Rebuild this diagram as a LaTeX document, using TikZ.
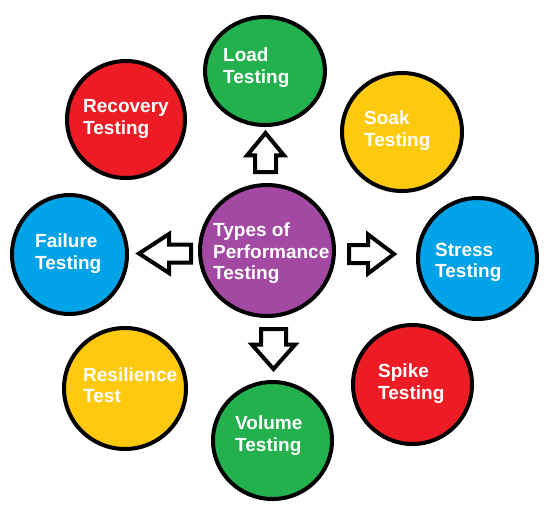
\documentclass[tikz,border=0pt]{standalone}
\usepackage{fontspec}
\setmainfont{Liberation Sans}
\usetikzlibrary{shapes.geometric,shapes.arrows,positioning}
\definecolor{paintgreen}{RGB}{34,177,76}
\definecolor{paintred}{RGB}{237,28,36}
\definecolor{paintyellow}{RGB}{255,201,14}
\definecolor{paintblue}{RGB}{0,162,232}
\definecolor{paintpurple}{RGB}{163,73,164}

\begin{document}
\begin{tikzpicture}[x=1pt,y=-1pt,
  disc/.style={ellipse,draw,line width=4pt,inner sep=0pt},
  lbl/.style={anchor=west,align=left,inner sep=0pt,text=white,font=\fontsize{19}{21.5}\selectfont\bfseries},
  bigarrow/.style={single arrow,draw,line width=4pt,fill=white,inner xsep=0pt,anchor=tail}]
\useasboundingbox (0,0) rectangle (554,515);
% centre and ring of testing types
\node[disc,fill=paintpurple,minimum width=134pt,minimum height=131pt] (types) at (267,250.5) {};
\node[disc,fill=paintgreen,minimum width=120pt,minimum height=108pt] (load) at (265,71) {};
\node[disc,fill=paintred,minimum width=118pt,minimum height=117pt] (recovery) at (126,119.5) {};
\node[disc,fill=paintyellow,minimum width=120pt,minimum height=118pt] (soak) at (402,132) {};
\node[disc,fill=paintblue,minimum width=115pt,minimum height=119pt] (failure) at (69.5,254.5) {};
\node[disc,fill=paintblue,minimum width=119pt,minimum height=121pt] (stress) at (477.5,258.5) {};
\node[disc,fill=paintyellow,minimum width=122pt,minimum height=121pt] (resilience) at (125,388.5) {};
\node[disc,fill=paintgreen,minimum width=119pt,minimum height=117pt] (volume) at (272.5,440.5) {};
\node[disc,fill=paintred,minimum width=119pt,minimum height=119pt] (spike) at (412.5,384.5) {};
% labels
\node[lbl] (typestxt) at (213,253.5) {Types of\\Performance\\Testing};
\node[lbl] (loadtxt) at (223,67.5) {Load\\Testing};
\node[lbl] (recoverytxt) at (83,119) {Recovery\\Testing};
\node[lbl] (soaktxt) at (364,130.5) {Soak\\Testing};
\node[lbl] (failuretxt) at (35,253.5) {Failure\\Testing};
\node[lbl] (stresstxt) at (435,262.5) {Stress\\Testing};
\node[lbl] (resiliencetxt) at (83,385) {Resilience\\Test};
\node[lbl] (volumetxt) at (235,435.5) {Volume\\Testing};
\node[lbl] (spiketxt) at (378,383.5) {Spike\\Testing};
% block arrows out of the centre
\node[bigarrow,rotate=90,inner ysep=8.5pt,minimum height=39pt,minimum width=33pt,single arrow head extend=8pt,single arrow tip angle=79] (uparr) at ([xshift=-1.5pt,yshift=9pt]types.north) {};
\node[bigarrow,inner ysep=7pt,minimum height=45pt,minimum width=35pt,single arrow head extend=10.5pt,single arrow tip angle=74] (rightarr) at ([xshift=11pt,yshift=-3.5pt]types.east) {};
\node[bigarrow,rotate=180,inner ysep=7pt,minimum height=52pt,minimum width=35pt,single arrow head extend=10.5pt,single arrow tip angle=66] (leftarr) at ([xshift=-5pt,yshift=-3pt]types.west) {};
\node[bigarrow,rotate=-90,inner ysep=10.5pt,minimum height=40pt,minimum width=39pt,single arrow head extend=9pt,single arrow tip angle=83] (downarr) at ([xshift=6.5pt,yshift=-9pt]types.south) {};
\end{tikzpicture}
\end{document}
